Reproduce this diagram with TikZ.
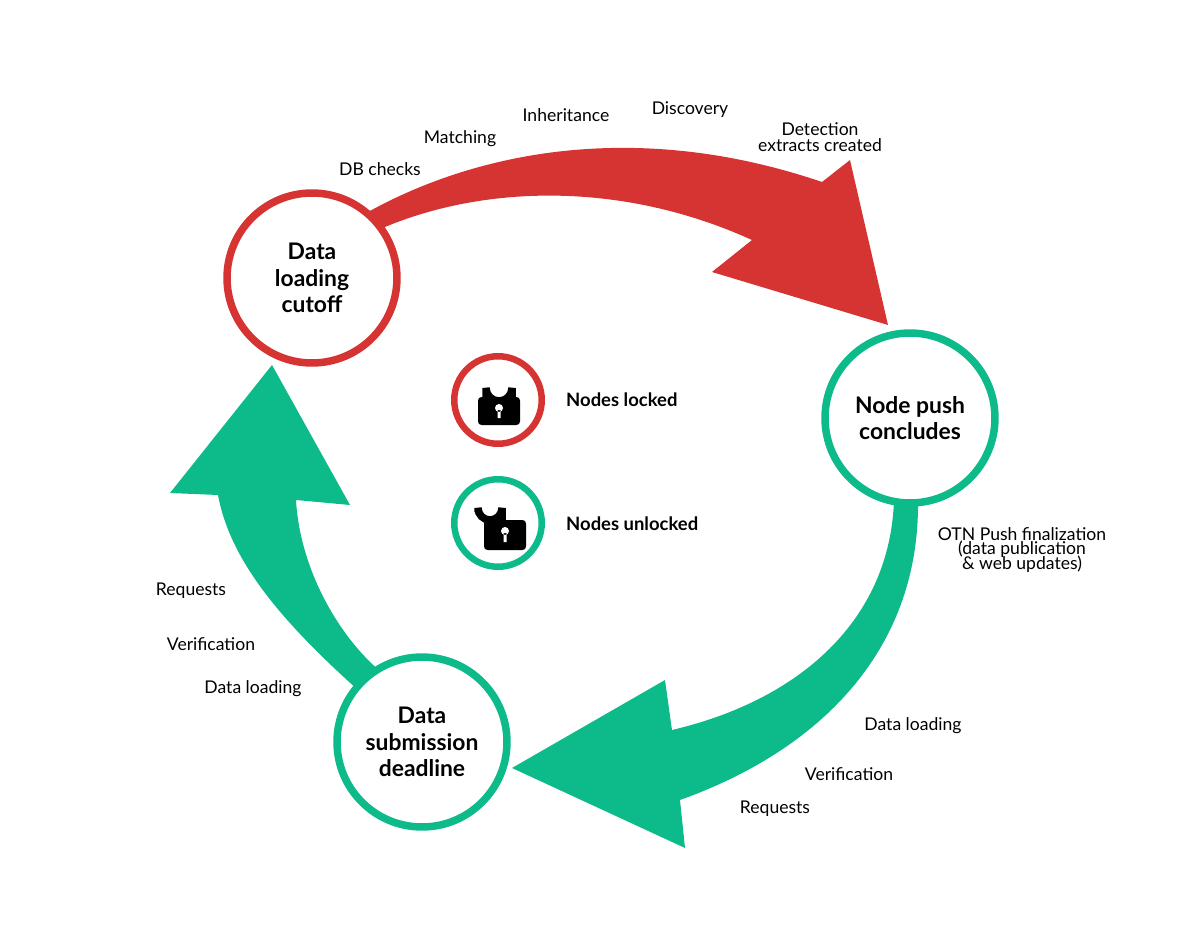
\documentclass[tikz,border=0pt]{standalone}
\usepackage{fontspec}
\setmainfont{Lato}
\begin{document}
\begin{tikzpicture}[x=0.02cm, y=-0.02cm,
    stage/.style={circle, draw=#1, line width=0.15cm, fill=white, minimum size=3.4cm, align=center, font=\fontsize{13}{15}\selectfont\bfseries},
    badge/.style={circle, draw=#1, line width=0.13cm, fill=white, minimum size=1.75cm},
    task/.style={font=\fontsize{10}{11.5}\selectfont, align=center},
    legend/.style={font=\fontsize{10.5}{12}\selectfont\bfseries, anchor=west}
]
\definecolor{lockred}{RGB}{214,51,51}
\definecolor{flowgreen}{RGB}{13,187,138}
\useasboundingbox (0,0) rectangle (1188,936);

% Arrows
\fill[lockred] (368,212) .. controls (480,150) and (640,120) .. (822,182) -- (850,160) -- (888,325) -- (712,272) -- (752,240) .. controls (620,180) and (480,185) .. (378,230) -- cycle;
\fill[flowgreen] (918,500) .. controls (920,650) and (820,750) .. (680,800) -- (685,848) -- (512,768) -- (665,680) -- (672,730) .. controls (800,700) and (890,620) .. (894,500) -- cycle;
\fill[flowgreen] (358,690) .. controls (280,620) and (230,560) .. (218,495) -- (170,493) -- (272,365) -- (350,505) -- (296,500) .. controls (300,570) and (340,640) .. (386,676) -- cycle;

% Stages
\node[stage=lockred] (cutoff) at (312,278) {Data\\loading\\cutoff};
\node[stage=flowgreen] (push) at (910,418) {Node push\\concludes};
\node[stage=flowgreen] (deadline) at (422,742) {Data\\submission\\deadline};

% Legend
\node[badge=lockred] (locked) at (498,400) {};
\node[badge=flowgreen] (unlocked) at (498,523) {};
\draw[line width=0.15cm] (486,398) -- (486,388) arc[start angle=180, end angle=0, radius=13] -- (512,398);
\fill[rounded corners=2pt] (478,397) rectangle (520,425);
\fill[white] (499,408) circle (4) (497.5,410) rectangle (500.5,418);
\draw[line width=0.15cm] (478,512) -- (478,508) arc[start angle=180, end angle=0, radius=12] -- (502,522);
\fill[rounded corners=2pt] (484,520) rectangle (526,550);
\fill[white] (505,531) circle (4) (503.5,533) rectangle (506.5,542);
\node[legend] (lockedtext) at (560,400) {Nodes locked};
\node[legend] (unlockedtext) at (560,524) {Nodes unlocked};

% Steps
\node[task] (dbchecks) at (380,169) {DB checks};
\node[task] (matching) at (460,139) {Matching};
\node[task] (inherit) at (566,115) {Inheritance};
\node[task] (discovery) at (690,110) {Discovery};
\node[task] (detection) at (820,137) {Detection\\[-2pt]extracts created};
\node[task] (otn) at (1022,550) {OTN Push finalization\\[-3pt](data publication\\[-3pt]\& web updates)};
\node[task] (loadright) at (913,726) {Data loading};
\node[task] (verifright) at (849,774) {Verification};
\node[task] (reqright) at (775,809) {Requests};
\node[task] (reqleft) at (191,591) {Requests};
\node[task] (verifleft) at (211,644) {Verification};
\node[task] (loadleft) at (253,689) {Data loading};
\end{tikzpicture}
\end{document}
